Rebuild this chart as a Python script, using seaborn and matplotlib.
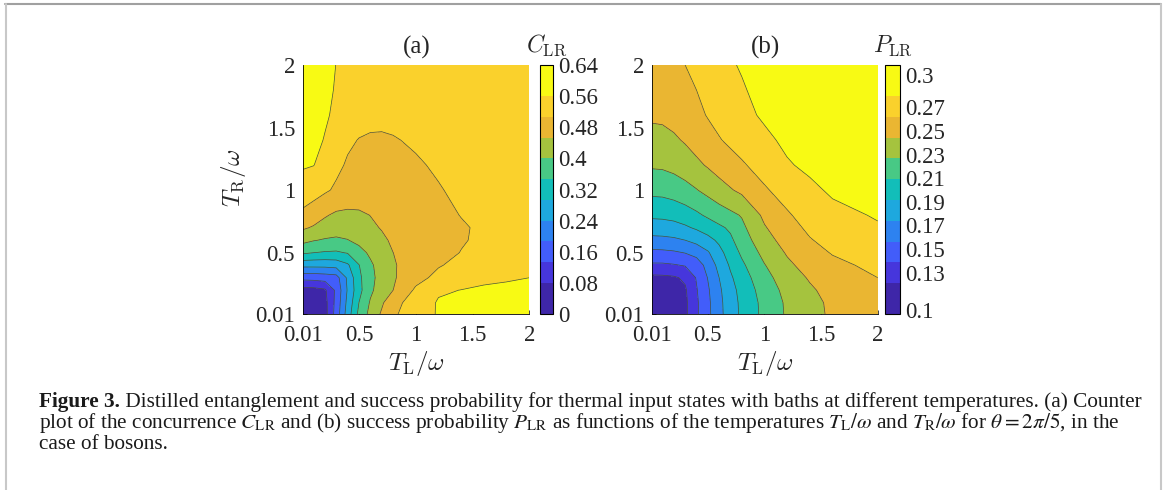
import matplotlib
matplotlib.use("Agg")
import matplotlib.pyplot as plt
from matplotlib.lines import Line2D
import numpy as np
import seaborn as sns

# temperature grid T/omega (same for both axes)
t_grid = [0.01, 0.1, 0.2, 0.3, 0.4, 0.5, 0.6, 0.7, 0.8, 1.0, 1.2, 1.4, 1.6, 1.8, 2.0]

# concurrence C_LR; rows = T_R, columns = T_L
c_lr = [
    [0.020, 0.025, 0.060, 0.155, 0.265, 0.360, 0.415, 0.460, 0.500, 0.530, 0.565, 0.580, 0.590, 0.595, 0.600],
    [0.025, 0.030, 0.062, 0.150, 0.255, 0.347, 0.405, 0.445, 0.492, 0.527, 0.565, 0.576, 0.584, 0.588, 0.590],
    [0.060, 0.062, 0.072, 0.145, 0.245, 0.330, 0.390, 0.425, 0.453, 0.515, 0.553, 0.561, 0.570, 0.574, 0.576],
    [0.150, 0.152, 0.158, 0.165, 0.250, 0.335, 0.385, 0.420, 0.447, 0.490, 0.520, 0.536, 0.546, 0.553, 0.560],
    [0.255, 0.255, 0.255, 0.260, 0.285, 0.345, 0.390, 0.425, 0.448, 0.480, 0.503, 0.520, 0.530, 0.537, 0.542],
    [0.355, 0.347, 0.342, 0.340, 0.350, 0.380, 0.410, 0.433, 0.453, 0.475, 0.492, 0.508, 0.520, 0.530, 0.537],
    [0.415, 0.403, 0.395, 0.390, 0.398, 0.415, 0.430, 0.445, 0.460, 0.472, 0.487, 0.503, 0.515, 0.525, 0.532],
    [0.460, 0.448, 0.435, 0.428, 0.428, 0.435, 0.445, 0.456, 0.466, 0.475, 0.486, 0.502, 0.514, 0.524, 0.530],
    [0.495, 0.480, 0.458, 0.445, 0.442, 0.445, 0.454, 0.465, 0.474, 0.484, 0.494, 0.508, 0.518, 0.526, 0.532],
    [0.535, 0.527, 0.514, 0.499, 0.490, 0.485, 0.483, 0.484, 0.487, 0.495, 0.504, 0.515, 0.523, 0.530, 0.534],
    [0.565, 0.561, 0.545, 0.518, 0.501, 0.495, 0.492, 0.492, 0.494, 0.502, 0.512, 0.520, 0.527, 0.532, 0.535],
    [0.580, 0.575, 0.557, 0.535, 0.515, 0.505, 0.501, 0.501, 0.504, 0.512, 0.520, 0.526, 0.531, 0.535, 0.537],
    [0.590, 0.585, 0.567, 0.550, 0.535, 0.525, 0.520, 0.518, 0.518, 0.522, 0.527, 0.531, 0.534, 0.537, 0.538],
    [0.600, 0.590, 0.575, 0.555, 0.542, 0.533, 0.528, 0.526, 0.526, 0.528, 0.531, 0.534, 0.536, 0.538, 0.539],
    [0.605, 0.595, 0.580, 0.559, 0.548, 0.540, 0.535, 0.532, 0.531, 0.532, 0.534, 0.536, 0.538, 0.539, 0.540],
]

# success probability P_LR; rows = T_R, columns = T_L
p_lr = [
    [0.096, 0.097, 0.102, 0.117, 0.136, 0.152, 0.169, 0.183, 0.195, 0.214, 0.229, 0.239, 0.247, 0.252, 0.256],
    [0.097, 0.098, 0.1025, 0.1175, 0.136, 0.1525, 0.1695, 0.1835, 0.1955, 0.2145, 0.2295, 0.2395, 0.2475, 0.2525, 0.2565],
    [0.102, 0.1025, 0.105, 0.119, 0.1375, 0.154, 0.171, 0.185, 0.1975, 0.217, 0.232, 0.242, 0.250, 0.2545, 0.258],
    [0.117, 0.1175, 0.119, 0.124, 0.140, 0.157, 0.174, 0.189, 0.201, 0.221, 0.236, 0.246, 0.254, 0.258, 0.262],
    [0.136, 0.136, 0.1375, 0.140, 0.146, 0.163, 0.179, 0.194, 0.206, 0.226, 0.241, 0.251, 0.258, 0.262, 0.266],
    [0.152, 0.1525, 0.154, 0.157, 0.163, 0.172, 0.186, 0.200, 0.212, 0.232, 0.246, 0.256, 0.263, 0.2665, 0.270],
    [0.169, 0.1695, 0.171, 0.174, 0.179, 0.186, 0.195, 0.206, 0.218, 0.238, 0.251, 0.261, 0.267, 0.2705, 0.274],
    [0.183, 0.1835, 0.185, 0.189, 0.194, 0.200, 0.206, 0.212, 0.223, 0.243, 0.256, 0.265, 0.271, 0.2745, 0.278],
    [0.195, 0.1955, 0.1975, 0.201, 0.206, 0.212, 0.218, 0.223, 0.228, 0.248, 0.260, 0.269, 0.275, 0.278, 0.281],
    [0.214, 0.2145, 0.217, 0.221, 0.226, 0.232, 0.238, 0.243, 0.248, 0.260, 0.269, 0.276, 0.282, 0.285, 0.287],
    [0.229, 0.2295, 0.232, 0.236, 0.241, 0.246, 0.251, 0.256, 0.260, 0.269, 0.278, 0.283, 0.288, 0.291, 0.293],
    [0.239, 0.2395, 0.242, 0.246, 0.251, 0.256, 0.261, 0.265, 0.269, 0.276, 0.283, 0.289, 0.292, 0.295, 0.297],
    [0.247, 0.2475, 0.250, 0.254, 0.258, 0.263, 0.267, 0.271, 0.275, 0.282, 0.288, 0.292, 0.296, 0.298, 0.300],
    [0.252, 0.2525, 0.2545, 0.258, 0.262, 0.2665, 0.2705, 0.2745, 0.278, 0.285, 0.291, 0.295, 0.298, 0.300, 0.302],
    [0.256, 0.2565, 0.258, 0.262, 0.266, 0.270, 0.274, 0.278, 0.281, 0.287, 0.293, 0.297, 0.300, 0.302, 0.303],
]

# contour levels / colour bands as shown on the two colorbars
levels_c = [0.0, 0.08, 0.1333, 0.1867, 0.24, 0.2933, 0.3467, 0.40, 0.4533, 0.5067, 0.56, 0.64]
levels_p = [0.095, 0.1212, 0.1388, 0.1564, 0.174, 0.1916, 0.2092, 0.2268, 0.2444, 0.262, 0.2796, 0.306]
cbar_ticks_c = [0, 0.08, 0.16, 0.24, 0.32, 0.4, 0.48, 0.56, 0.64]
cbar_labels_c = ['0', '0.08', '0.16', '0.24', '0.32', '0.4', '0.48', '0.56', '0.64']
cbar_ticks_p = [0.098, 0.13, 0.15, 0.17, 0.19, 0.21, 0.23, 0.25, 0.27, 0.2975]
cbar_labels_p = ['0.1', '0.13', '0.15', '0.17', '0.19', '0.21', '0.23', '0.25', '0.27', '0.3']
axis_ticks = [0.01, 0.5, 1, 1.5, 2]
axis_labels = ['0.01', '0.5', '1', '1.5', '2']

band_colors = ['#3e26a8', '#4636dc', '#425dfa', '#2d82f0', '#1ea8de', '#12beb9',
               '#48c985', '#a5c33e', '#eab632', '#fad12c', '#f8fa14']

sns.set_theme(style='ticks')
plt.rcParams['font.family'] = ['Liberation Serif', 'DejaVu Serif']
plt.rcParams['mathtext.fontset'] = 'cm'

palette = sns.color_palette(band_colors)
W, H = 1165, 490
fig = plt.figure(figsize=(W / 100, H / 100), dpi=100)
fig.patch.set_facecolor('white')


def px_box(left, top, right, bottom):
    return [left / W, 1 - bottom / H, (right - left) / W, (bottom - top) / H]


ax_a = fig.add_axes(px_box(303.3, 65, 529.3, 314))
cax_a = fig.add_axes(px_box(540, 65, 553, 314))
ax_b = fig.add_axes(px_box(652.3, 65, 877.7, 314))
cax_b = fig.add_axes(px_box(885.5, 65, 900, 314))

X, Y = np.meshgrid(t_grid, t_grid)
panels = [
    (ax_a, cax_a, np.array(c_lr), levels_c, cbar_ticks_c, cbar_labels_c, '(a)', r'$C_{\rm LR}$'),
    (ax_b, cax_b, np.array(p_lr), levels_p, cbar_ticks_p, cbar_labels_p, '(b)', r'$P_{\rm LR}$'),
]

for ax, cax, Z, levels, cticks, clabels, title, cname in panels:
    cs = ax.contourf(X, Y, Z, levels=levels, colors=palette)
    ax.contour(X, Y, Z, levels=levels[1:-1], colors='#4a4a40', linewidths=0.5)
    ax.set_xlim(0.01, 2)
    ax.set_ylim(0.01, 2)
    ax.set_xticks(axis_ticks)
    ax.set_xticklabels(axis_labels)
    ax.set_yticks(axis_ticks)
    ax.set_yticklabels(axis_labels)
    ax.set_axisbelow(True)
    ax.tick_params(direction='in', length=3, width=0.6, labelsize=16.5, pad=6)
    ax.tick_params(axis='x', pad=8)
    sns.despine(ax=ax)
    for s in ['left', 'bottom']:
        ax.spines[s].set_linewidth(0.6)
        ax.spines[s].set_color('black')
    ax.set_xlabel(r'$T_{\rm L}/\omega$', fontsize=18, labelpad=2)
    ax.text(0.5, 1.025, title, transform=ax.transAxes, ha='center', va='bottom', fontsize=18)

    cb = fig.colorbar(cs, cax=cax, spacing='proportional', ticks=cticks)
    cb.set_ticklabels(clabels)
    cb.outline.set_linewidth(0.8)
    cb.outline.set_edgecolor('black')
    cax.tick_params(direction='in', length=4, width=0.6, labelsize=16.5, pad=4, right=True, left=False)
    cax.text(0.5, 1.03, cname, transform=cax.transAxes, ha='center', va='bottom', fontsize=17)

ax_a.set_ylabel(r'$T_{\rm R}/\omega$', fontsize=18)
ax_a.yaxis.set_label_coords(-0.245, 0.546)

# caption
fig.canvas.draw()
renderer = fig.canvas.get_renderer()
cap_bold = 'Figure 3.'
cap_rest = (' Distilled entanglement and success probability for thermal input states with baths '
            'at different temperatures. (a) Counter')
cap_line2 = (r'plot of the concurrence $C_{\rm LR}$ and (b) success probability $P_{\rm LR}$ as '
             r'functions of the temperatures $T_{\rm L}/\omega$ and $T_{\rm R}/\omega$ for '
             r'$\theta = 2\pi/5$, in the')
cap_line3 = 'case of bosons.'


def line_width(size):
    t1 = fig.text(0, 0, cap_bold, fontsize=size, fontweight='bold')
    t2 = fig.text(0, 0, cap_rest, fontsize=size)
    w = t1.get_window_extent(renderer).width + t2.get_window_extent(renderer).width
    t1.remove()
    t2.remove()
    return w


size = 12 * (1135 - 39) / line_width(12)
x0 = 39 / W
tb = fig.text(x0, 1 - 406.5 / H, cap_bold, fontsize=size, fontweight='bold', va='baseline', color='#1a1a1a')
wb = tb.get_window_extent(renderer).width
fig.text(x0 + wb / W, 1 - 406.5 / H, cap_rest, fontsize=size, va='baseline', color='#1a1a1a')
fig.text(x0, 1 - 427.5 / H, cap_line2, fontsize=size, va='baseline', math_fontfamily='stix', color='#1a1a1a')
fig.text(x0, 1 - 448.5 / H, cap_line3, fontsize=size, va='baseline', color='#1a1a1a')

# light frame around the figure
fig.add_artist(Line2D([5 / W, 1161 / W], [1 - 4.5 / H, 1 - 4.5 / H], transform=fig.transFigure,
                      color='#a0a0a0', lw=1.5))
fig.add_artist(Line2D([6 / W, 6 / W], [0, 1 - 4.5 / H], transform=fig.transFigure,
                      color='#c8c8c8', lw=1.5))
fig.add_artist(Line2D([1160.5 / W, 1160.5 / W], [0, 1 - 4.5 / H], transform=fig.transFigure,
                      color='#c8c8c8', lw=1.5))

fig.savefig('out.png', dpi=100)
